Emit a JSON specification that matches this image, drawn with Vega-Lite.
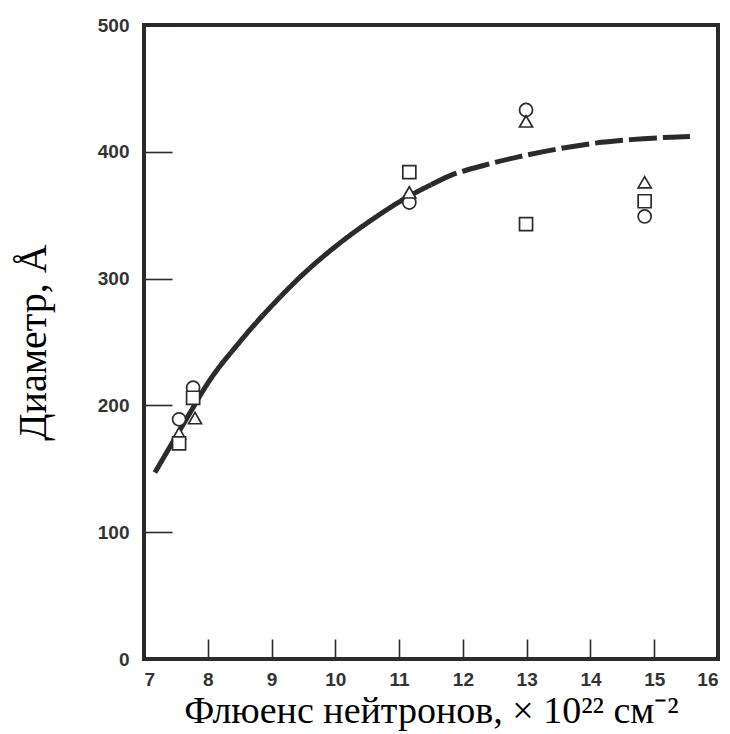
{
  "$schema": "https://vega.github.io/schema/vega-lite/v6.json",
  "width": 574,
  "height": 634,
  "autosize": {"type": "none"},
  "padding": {"left": 144, "top": 25, "right": 12, "bottom": 75},
  "background": "white",
  "config": {
    "view": {"stroke": "#2b2b2b", "strokeWidth": 4},
    "axis": {
      "grid": false,
      "domain": false,
      "tickColor": "#2b2b2b",
      "tickWidth": 1.6,
      "labelFont": "Liberation Sans",
      "labelFontWeight": "bold",
      "labelFontSize": 19,
      "labelColor": "#333333",
      "titleFont": "Liberation Serif",
      "titleFontWeight": "normal",
      "titleFontSize": 40,
      "titleColor": "#000000"
    }
  },
  "datasets": {
    "curve": [
      {"fluence": 7.17, "diameter": 147, "segment": "solid"},
      {"fluence": 7.45, "diameter": 171, "segment": "solid"},
      {"fluence": 7.72, "diameter": 194, "segment": "solid"},
      {"fluence": 7.98, "diameter": 216, "segment": "solid"},
      {"fluence": 8.5, "diameter": 250, "segment": "solid"},
      {"fluence": 9.03, "diameter": 280, "segment": "solid"},
      {"fluence": 9.55, "diameter": 306, "segment": "solid"},
      {"fluence": 10.07, "diameter": 328, "segment": "solid"},
      {"fluence": 10.59, "diameter": 347, "segment": "solid"},
      {"fluence": 11.12, "diameter": 364, "segment": "solid"},
      {"fluence": 11.5, "diameter": 374, "segment": "solid"},
      {"fluence": 11.5, "diameter": 374, "segment": "dashed"},
      {"fluence": 11.79, "diameter": 381, "segment": "dashed"},
      {"fluence": 12.31, "diameter": 389, "segment": "dashed"},
      {"fluence": 12.87, "diameter": 396, "segment": "dashed"},
      {"fluence": 13.46, "diameter": 402, "segment": "dashed"},
      {"fluence": 14.02, "diameter": 406.5, "segment": "dashed"},
      {"fluence": 14.63, "diameter": 409.6, "segment": "dashed"},
      {"fluence": 15.27, "diameter": 411.5, "segment": "dashed"},
      {"fluence": 15.56, "diameter": 412, "segment": "dashed"}
    ],
    "points": [
      {"fluence": 7.55, "diameter": 189, "series": "circle"},
      {"fluence": 7.77, "diameter": 214, "series": "circle"},
      {"fluence": 11.16, "diameter": 360, "series": "circle"},
      {"fluence": 12.99, "diameter": 433, "series": "circle"},
      {"fluence": 14.85, "diameter": 349, "series": "circle"},
      {"fluence": 7.55, "diameter": 178, "series": "triangle"},
      {"fluence": 7.8, "diameter": 190, "series": "triangle"},
      {"fluence": 11.16, "diameter": 368, "series": "triangle"},
      {"fluence": 12.99, "diameter": 424, "series": "triangle"},
      {"fluence": 14.85, "diameter": 376, "series": "triangle"},
      {"fluence": 7.55, "diameter": 170, "series": "square"},
      {"fluence": 7.77, "diameter": 206, "series": "square"},
      {"fluence": 11.16, "diameter": 384, "series": "square"},
      {"fluence": 12.99, "diameter": 343, "series": "square"},
      {"fluence": 14.85, "diameter": 361, "series": "square"}
    ]
  },
  "layer": [
    {
      "data": {"name": "curve"},
      "mark": {"type": "line", "interpolate": "monotone", "color": "#2b2b2b", "strokeWidth": 5, "strokeCap": "butt"},
      "encoding": {
        "x": {
          "field": "fluence", "type": "quantitative",
          "scale": {"domain": [7, 16], "nice": false, "zero": false},
          "axis": {"values": [7, 8, 9, 10, 11, 12, 13, 14, 15, 16], "format": "d", "tickSize": -20, "labelPadding": 31, "title": "Флюенс нейтронов, × 10²² см⁻²", "titleFontSize": 38, "titlePadding": 3}
        },
        "y": {
          "field": "diameter", "type": "quantitative",
          "scale": {"domain": [0, 500], "nice": false},
          "axis": {"values": [0, 100, 200, 300, 400, 500], "format": "d", "tickSize": -28, "labelPadding": 43, "title": "Диаметр, Å", "titlePadding": 44}
        },
        "strokeDash": {
          "field": "segment", "type": "nominal",
          "scale": {"domain": ["solid", "dashed"], "range": [[1, 0], [28, 6]]},
          "legend": null
        },
        "order": {"field": "fluence", "type": "quantitative"}
      }
    },
    {
      "data": {"name": "points"},
      "mark": {"type": "point", "filled": true, "fill": "white", "stroke": "#2b2b2b", "strokeWidth": 1.7, "size": 170, "opacity": 1},
      "encoding": {
        "x": {"field": "fluence", "type": "quantitative"},
        "y": {"field": "diameter", "type": "quantitative"},
        "shape": {
          "field": "series", "type": "nominal",
          "scale": {"domain": ["circle", "square", "triangle"], "range": ["circle", "square", "triangle-up"]},
          "legend": null
        }
      }
    }
  ]
}
